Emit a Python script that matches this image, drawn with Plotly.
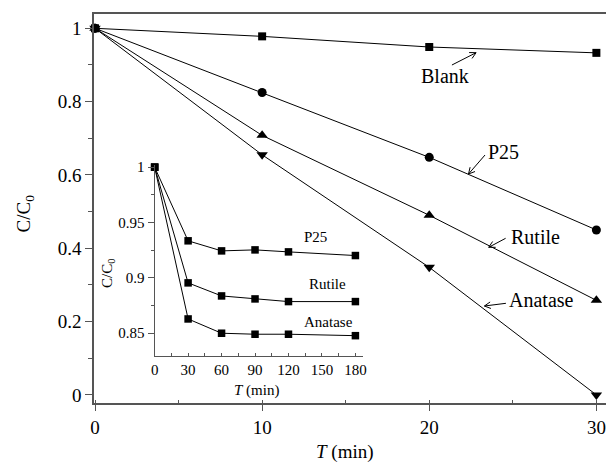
import math
import plotly.graph_objects as go

# ---------------- data ----------------
t_main = [0, 10, 20, 30]
blank = [1.0, 0.978, 0.949, 0.933]
p25 = [1.0, 0.825, 0.648, 0.450]
rutile = [1.0, 0.708, 0.490, 0.258]
anatase = [1.0, 0.655, 0.348, 0.0]

t_inset = [0, 30, 60, 90, 120, 180]
p25_in = [1.0, 0.9335, 0.9244, 0.9253, 0.9235, 0.9202]
rutile_in = [1.0, 0.8955, 0.8837, 0.8810, 0.8786, 0.8786]
anatase_in = [1.0, 0.8629, 0.8500, 0.8491, 0.8491, 0.8478]

main_yticks = [0, 0.2, 0.4, 0.6, 0.8, 1]
main_xticks = [0, 10, 20, 30]
inset_xticks = [0, 30, 60, 90, 120, 150, 180]
inset_yticks = [0.85, 0.9, 0.95, 1]

# ---------------- layout helpers (page pixel coords -> paper) ----------------
OFF = 8                      # default body margin of the html page
W, H = 614 - OFF, 465 - OFF
L, R, T, B = 86, 0, 6, 62
PW, PH = W - L - R, H - T - B
FONT = "Liberation Serif, Times New Roman, serif"
AX = "#555555"


def px(xp):
    return (xp - OFF - L) / PW


def py(yp):
    return (H - B - (yp - OFF)) / PH


fig = go.Figure()

line = dict(color="black", width=1)
for name, ys, sym, sz in [("Blank", blank, "square", 8),
                          ("P25", p25, "circle", 9),
                          ("Rutile", rutile, "triangle-up", 10),
                          ("Anatase", anatase, "triangle-down", 10)]:
    fig.add_trace(go.Scatter(x=t_main, y=ys, mode="lines+markers", name=name,
                             line=line, marker=dict(symbol=sym, size=sz, color="black"),
                             cliponaxis=False, showlegend=False))

for name, ys in [("P25", p25_in), ("Rutile", rutile_in), ("Anatase", anatase_in)]:
    fig.add_trace(go.Scatter(x=t_inset, y=ys, mode="lines+markers", name=name,
                             line=line, marker=dict(symbol="square", size=7.5, color="black"),
                             xaxis="x2", yaxis="y2", cliponaxis=False, showlegend=False))

fig.update_layout(
    width=W, height=H,
    margin=dict(l=L, r=R, t=T, b=B),
    paper_bgcolor="white", plot_bgcolor="rgba(0,0,0,0)",
    font=dict(family=FONT, color="black"),
    xaxis=dict(range=[-0.06, 30.875], tickvals=main_xticks, ticks="outside", ticklen=6,
               tickcolor=AX, showline=True, linecolor=AX, linewidth=1.5, mirror=True,
               showgrid=False, zeroline=False, tickfont=dict(size=19, family=FONT),
               minor=dict(dtick=5, tick0=0, ticks="inside", ticklen=3, tickcolor=AX),
               domain=[0, 1]),
    yaxis=dict(range=[-0.022, 1.039], tickvals=main_yticks, ticks="outside", ticklen=7,
               tickcolor=AX, showline=True, linecolor=AX, linewidth=1.5,
               showgrid=False, zeroline=False, tickfont=dict(size=19, family=FONT),
               minor=dict(dtick=0.1, tick0=0, ticks="outside", ticklen=4, tickcolor=AX),
               domain=[0, 1]),
    xaxis2=dict(range=[0, 187.2], tickvals=inset_xticks, ticks="inside", ticklen=3,
                tickcolor=AX, showline=True, linecolor=AX, linewidth=1.2,
                showgrid=False, zeroline=False, tickfont=dict(size=15, family=FONT),
                minor=dict(dtick=15, tick0=0, ticks="inside", ticklen=3, tickcolor=AX),
                domain=[px(155), px(365)], anchor="y2"),
    yaxis2=dict(range=[0.8297, 1.002], tickvals=inset_yticks, ticks="outside", ticklen=6,
                tickcolor=AX, showline=True, linecolor=AX, linewidth=1.2,
                showgrid=False, zeroline=False, tickfont=dict(size=15, family=FONT),
                minor=dict(dtick=0.025, tick0=0, ticks="outside", ticklen=3, tickcolor=AX),
                domain=[py(355.7), py(165)], anchor="x2"),
)

ann = []
shapes = []


def text_at(x, y, txt, size, angle=0):
    ann.append(dict(x=px(x), y=py(y), xref="paper", yref="paper", text=txt,
                    textangle=angle, showarrow=False, xanchor="center", yanchor="middle",
                    font=dict(size=size, family=FONT)))


def arrow(tail, tip, head=7, half_angle=28):
    (x0, y0), (x1, y1) = tail, tip
    ang = math.atan2(y0 - y1, x0 - x1)
    pts = []
    for s in (1, -1):
        a = ang + s * math.radians(half_angle)
        pts.append((x1 + head * math.cos(a), y1 + head * math.sin(a)))
    path = (f"M{px(x0)},{py(y0)} L{px(x1)},{py(y1)} "
            f"M{px(pts[0][0])},{py(pts[0][1])} L{px(x1)},{py(y1)} L{px(pts[1][0])},{py(pts[1][1])}")
    shapes.append(dict(type="path", path=path, xref="paper", yref="paper",
                       line=dict(color="black", width=1)))


# axis titles
text_at(25, 213, "C/C<sub>0</sub>", 19, -90)
text_at(346, 452, "<i>T</i> (min)", 19)
text_at(108, 273, "C/C<sub>0</sub>", 15, -90)
text_at(257, 390, "<i>T</i> (min)", 15)

# main series labels with arrows
labels = [("Blank", (447, 76), (454, 65), (478.3, 52.7)),
          ("P25", (506, 151.7), (487.3, 155), (470.7, 174)),
          ("Rutile", (538, 237.3), (508, 238.3), (491, 247.3)),
          ("Anatase", (544, 300), (508.3, 303.3), (486.7, 306))]
for txt, tpos, tail, tip in labels:
    text_at(tpos[0], tpos[1], txt, 20)
    arrow(tail, tip)

# inset labels
for txt, (tx, ty) in [("P25", (316.7, 237.3)), ("Rutile", (329.3, 284)), ("Anatase", (330, 321.7))]:
    text_at(tx, ty, txt, 15)

fig.update_layout(annotations=ann, shapes=shapes)
fig.write_html("out.html")
